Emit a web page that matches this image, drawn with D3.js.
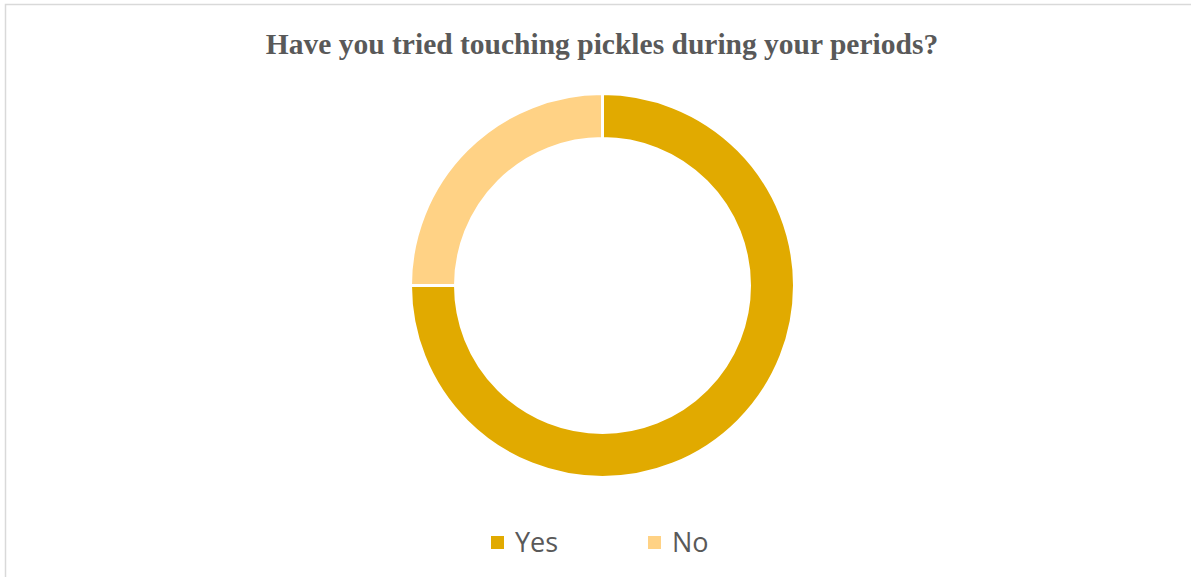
<!DOCTYPE html>
<html>
<head>
<meta charset="utf-8">
<script src="https://cdn.jsdelivr.net/npm/d3@7"></script>
<style>
  html, body { margin: 0; padding: 0; background: #fff; }
  svg { display: block; }
</style>
</head>
<body>
<svg id="chart" width="1191" height="577"></svg>
<script>
// Survey answers
const categories = ["Yes", "No"];
const values = [75, 25];
const colors = ["#E1AA00", "#FFD285"];
const title = "Have you tried touching pickles during your periods?";

const width = 1191, height = 577;
const svg = d3.select("#chart");

// Chart frame (left and top edges visible)
svg.append("rect")
  .attr("x", 5.5).attr("y", 4.5)
  .attr("width", width + 10).attr("height", height + 10)
  .attr("fill", "#fff")
  .attr("stroke", "#d9d9d9")
  .attr("stroke-width", 1.5);

svg.append("text")
  .attr("x", 602).attr("y", 54)
  .attr("text-anchor", "middle")
  .attr("font-family", "'Liberation Serif', 'Times New Roman', serif")
  .attr("font-weight", "bold")
  .attr("font-size", 29.5)
  .attr("fill", "#595959")
  .text(title);

const cx = 602.5, cy = 285.5;
const outerR = 192, innerR = 147;

const data = categories.map((c, i) => ({ category: c, value: values[i] }));
const color = d3.scaleOrdinal().domain(categories).range(colors);

const pie = d3.pie().value(d => d.value).sort(null);
const arc = d3.arc().innerRadius(innerR).outerRadius(outerR);

svg.append("g")
  .attr("transform", `translate(${cx},${cy})`)
  .selectAll("path")
  .data(pie(data))
  .join("path")
  .attr("d", arc)
  .attr("fill", d => color(d.data.category))
  .attr("stroke", "#fff")
  .attr("stroke-width", 3);

// Legend
const legendX = d3.scalePoint().domain(categories).range([491, 648]);
const legend = svg.append("g").selectAll("g")
  .data(categories)
  .join("g")
  .attr("transform", d => `translate(${legendX(d)},536)`);

legend.append("rect")
  .attr("width", 13).attr("height", 13)
  .attr("fill", d => color(d));

legend.append("text")
  .attr("x", 24).attr("y", 16)
  .attr("font-family", "'Open Sans', 'Liberation Sans', sans-serif")
  .attr("font-size", 27)
  .attr("fill", "#595959")
  .text(d => d);
</script>
</body>
</html>
